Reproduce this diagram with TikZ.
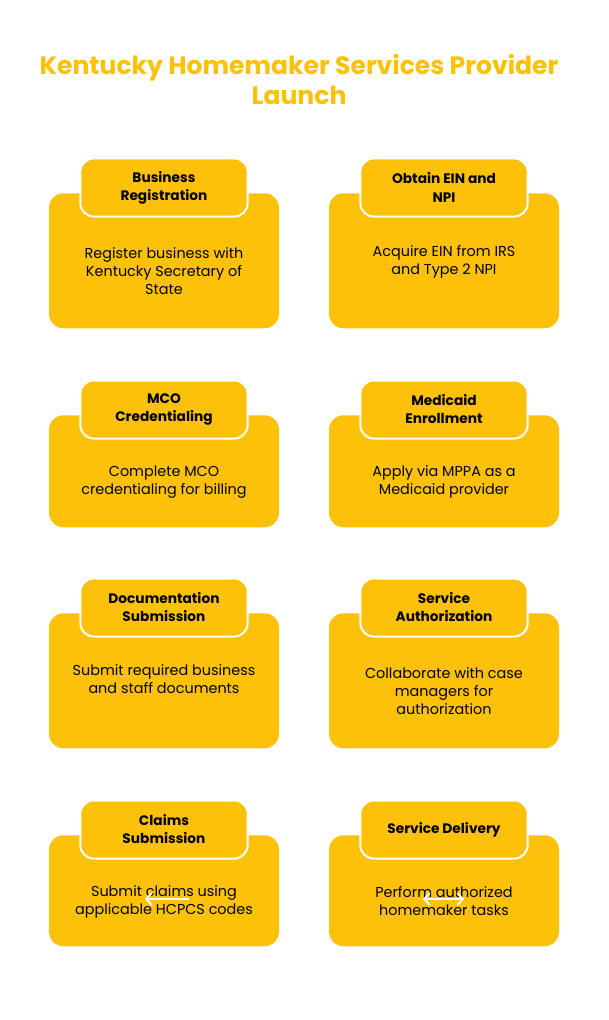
\documentclass[tikz,border=0pt]{standalone}
\usepackage{fontspec}
\setmainfont{Poppins}
\usetikzlibrary{positioning,calc,arrows.meta}
\definecolor{amber}{HTML}{FDC109}
\tikzset{
  cardbox/.style args={#1,#2}{
  rectangle,
  rounded corners=11pt,
  fill=amber,
  inner sep=0pt,
  anchor=north,
  minimum width=#1,
  minimum height=#2,
  },
  tabnode/.style={
  rectangle,
  rounded corners=10pt,
  fill=amber,
  draw=white,
  line width=1.5pt,
  anchor=north,
  align=center,
  minimum width=125.5pt,
  minimum height=43.5pt,
  font=\bfseries\fontsize{10.3}{13.5}\selectfont
  },
  bodytext/.style={align=center,yshift=1.2pt,font=\fontsize{10.8}{13.5}\selectfont},
  link/.style={white,line width=1.5pt,arrows={-Straight Barb[length=4pt,width=9pt]}},
  biglink/.style={link,arrows={Straight Barb[length=4pt,width=9pt]-Straight Barb[length=4pt,width=9pt]}}
}
\begin{document}
\begin{tikzpicture}[x=0.75pt,y=-0.75pt]
  \useasboundingbox (0,0) rectangle (608,1020);
  \node[text=amber,align=center,font=\bfseries\fontsize{18.8}{22.5}\selectfont] (title) at (299,79.5)
        {Kentucky Homemaker Services Provider\\Launch};

  % row 1
  \node[cardbox={172.5pt,101.25pt}] (reg) at (164,193) {};
  \node[tabnode] (regtab) at (164,157.5) {Business\\Registration};
  \node[bodytext] (regtext) at ($(regtab.south)!0.5!(reg.south)$) {Register business with\\Kentucky Secretary of\\State};
  \node[cardbox={172.5pt,101.25pt}] (ein) at (444,193) {};
  \node[tabnode] (eintab) at (444,157.5) {Obtain EIN and\\NPI};
  \node[bodytext] (eintext) at ($(eintab.south)!0.41!(ein.south)$) {Acquire EIN from IRS\\and Type 2 NPI};

  % row 2
  \node[cardbox={172.5pt,84pt}] (mco) at (164,415) {};
  \node[tabnode] (mcotab) at (164,379.5) {MCO\\Credentialing};
  \node[bodytext] (mcotext) at ($(mcotab.south)!0.5!(mco.south)$) {Complete MCO\\credentialing for billing};
  \node[cardbox={172.5pt,84pt}] (med) at (444,415) {};
  \node[tabnode] (medtab) at (444,379.5) {Medicaid\\Enrollment};
  \node[bodytext] (medtext) at ($(medtab.south)!0.5!(med.south)$) {Apply via MPPA as a\\Medicaid provider};

  % row 3
  \node[cardbox={172.5pt,101.25pt}] (doc) at (164,613) {};
  \node[tabnode] (doctab) at (164,577.5) {Documentation\\Submission};
  \node[bodytext] (doctext) at ($(doctab.south)!0.39!(doc.south)$) {Submit required business\\and staff documents};
  \node[cardbox={172.5pt,101.25pt}] (auth) at (444,613) {};
  \node[tabnode] (authtab) at (444,577.5) {Service\\Authorization};
  \node[bodytext] (authtext) at ($(authtab.south)!0.5!(auth.south)$) {Collaborate with case\\managers for\\authorization};

  % row 4
  \node[cardbox={172.5pt,83.25pt}] (clm) at (164,835) {};
  \node[tabnode] (clmtab) at (164,799.5) {Claims\\Submission};
  \node[bodytext] (clmtext) at ($(clmtab.south)!0.5!(clm.south)$) {Submit claims using\\applicable HCPCS codes};
  \node[cardbox={172.5pt,83.25pt}] (del) at (444,835) {};
  \node[tabnode] (deltab) at (444,799.5) {Service Delivery};
  \node[bodytext] (deltext) at ($(deltab.south)!0.5!(del.south)$) {Perform authorized\\homemaker tasks};

  \coordinate (clmA) at (189,899);
  \coordinate (clmB) at (145,899);
  \draw[link] (clmA) -- (clmB);
  \coordinate (delA) at (423,899);
  \coordinate (delB) at (464,899);
  \draw[biglink] (delA) -- (delB);
\end{tikzpicture}
\end{document}
